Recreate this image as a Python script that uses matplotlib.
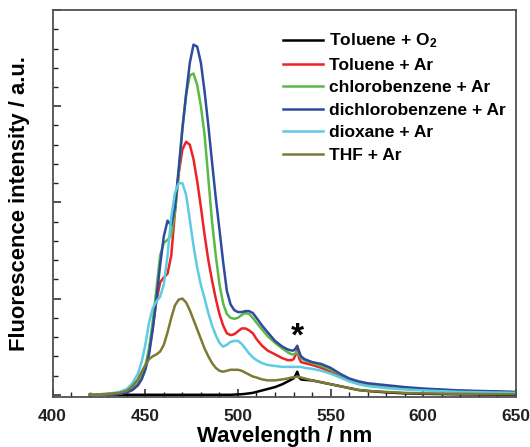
"""
Fluorescence emission spectra in different solvents (Ar / O2 atmosphere).
Redraws the spectra figure and saves it as out.png.
"""

import matplotlib
matplotlib.use("Agg")
import matplotlib.pyplot as plt
from matplotlib.ticker import MultipleLocator


# ──────────────────────────────────────────────────────────────
# DATA
# ──────────────────────────────────────────────────────────────
wavelength = [420, 430, 436, 440, 443, 446, 448, 450, 452, 454, 456, 458, 460,
              462, 464, 466, 468, 470, 472, 474, 476, 478, 480, 482, 484, 486,
              488, 490, 492, 494, 496, 498, 500, 502, 504, 506, 508, 510, 513,
              516, 520, 524, 527, 529, 530, 531, 532, 533, 534, 536, 540, 545,
              550, 555, 560, 565, 570, 580, 590, 600, 620, 650]

toluene_o2 = [0, 0, 0, 0, 0, 0, 0, 0, 0, 0, 0, 0, 0,
              0, 0, 0, 0, 0, 0, 0, 0, 0, 0, 0, 0, 0,
              0, 0, 0, 0, 0, 0.002, 0.004, 0.006, 0.01, 0.015, 0.02, 0.03, 0.045,
              0.06, 0.08, 0.11, 0.14, 0.16, 0.17, 0.20, 0.24, 0.18, 0.16, 0.155, 0.15, 0.13,
              0.11, 0.09, 0.07, 0.05, 0.04, 0.025, 0.015, 0.01, 0.005, 0]

toluene_ar = [0, 0.005, 0.01, 0.03, 0.05, 0.10, 0.17, 0.28, 0.45, 0.70, 0.98, 1.17, 1.22,
              1.26, 1.45, 1.90, 2.30, 2.55, 2.63, 2.60, 2.45, 2.22, 1.95, 1.66, 1.40, 1.19,
              1.00, 0.84, 0.72, 0.64, 0.62, 0.63, 0.66, 0.69, 0.69, 0.67, 0.64, 0.58, 0.51,
              0.46, 0.42, 0.38, 0.36, 0.36, 0.37, 0.41, 0.48, 0.38, 0.34, 0.33, 0.31, 0.28,
              0.24, 0.19, 0.15, 0.12, 0.10, 0.08, 0.065, 0.055, 0.04, 0.025]

chlorobenzene_ar = [0, 0.005, 0.01, 0.03, 0.06, 0.12, 0.19, 0.30, 0.48, 0.76, 1.10, 1.45, 1.58,
                    1.61, 1.66, 1.90, 2.30, 2.78, 3.12, 3.32, 3.34, 3.22, 3.00, 2.70, 2.25, 1.80,
                    1.45, 1.15, 0.95, 0.84, 0.80, 0.79, 0.80, 0.83, 0.85, 0.84, 0.80, 0.75, 0.68,
                    0.61, 0.54, 0.48, 0.44, 0.42, 0.42, 0.43, 0.45, 0.42, 0.38, 0.36, 0.33, 0.30,
                    0.26, 0.21, 0.16, 0.13, 0.11, 0.09, 0.07, 0.06, 0.04, 0.025]

dichlorobenzene_ar = [0, 0.005, 0.01, 0.025, 0.05, 0.10, 0.16, 0.26, 0.42, 0.68, 1.00, 1.35, 1.65,
                      1.81, 1.76, 1.95, 2.35, 2.76, 3.12, 3.45, 3.64, 3.62, 3.45, 3.15, 2.80, 2.42,
                      2.05, 1.72, 1.38, 1.08, 0.94, 0.88, 0.86, 0.86, 0.87, 0.87, 0.85, 0.80, 0.72,
                      0.65, 0.56, 0.50, 0.47, 0.46, 0.46, 0.48, 0.51, 0.45, 0.40, 0.37, 0.34, 0.32,
                      0.28, 0.22, 0.17, 0.14, 0.12, 0.10, 0.08, 0.065, 0.045, 0.03]

dioxane_ar = [0, 0.01, 0.03, 0.06, 0.12, 0.22, 0.34, 0.52, 0.75, 0.90, 0.97, 1.02, 1.15,
              1.45, 1.85, 2.10, 2.20, 2.20, 2.08, 1.82, 1.55, 1.32, 1.14, 1.00, 0.85, 0.72,
              0.62, 0.54, 0.50, 0.52, 0.55, 0.56, 0.56, 0.53, 0.48, 0.43, 0.39, 0.36, 0.33,
              0.31, 0.30, 0.29, 0.29, 0.29, 0.29, 0.29, 0.29, 0.29, 0.29, 0.28, 0.27, 0.25,
              0.22, 0.18, 0.14, 0.11, 0.09, 0.07, 0.055, 0.045, 0.03, 0.02]

thf_ar = [0, 0.01, 0.02, 0.04, 0.09, 0.16, 0.24, 0.31, 0.37, 0.40, 0.42, 0.45, 0.52,
          0.65, 0.80, 0.93, 0.99, 1.00, 0.96, 0.88, 0.78, 0.68, 0.58, 0.48, 0.40, 0.33,
          0.28, 0.25, 0.24, 0.25, 0.26, 0.26, 0.26, 0.25, 0.23, 0.21, 0.19, 0.18, 0.16,
          0.15, 0.15, 0.16, 0.17, 0.18, 0.18, 0.185, 0.19, 0.185, 0.18, 0.17, 0.15, 0.13,
          0.11, 0.09, 0.07, 0.05, 0.04, 0.03, 0.02, 0.015, 0.01, 0.005]

labels = ["Toluene + O$_2$", "Toluene + Ar", "chlorobenzene + Ar",
          "dichlorobenzene + Ar", "dioxane + Ar", "THF + Ar"]
colors = ["#000000", "#ec2227", "#5cb947", "#2f4b9e", "#5fcbe2", "#7b7b35"]


# ──────────────────────────────────────────────────────────────
# PLOT
# ──────────────────────────────────────────────────────────────
def main() -> None:
    plt.rcParams["font.family"] = ["Liberation Sans", "DejaVu Sans"]
    plt.rcParams["font.weight"] = "bold"
    plt.rcParams["mathtext.fontset"] = "custom"
    plt.rcParams["mathtext.bf"] = "Liberation Sans:bold"
    plt.rcParams["mathtext.rm"] = "Liberation Sans:bold"
    plt.rcParams["mathtext.default"] = "bf"

    fig = plt.figure(figsize=(5.30, 4.47), dpi=100)
    ax = fig.add_axes([0.0994, 0.1125, 0.874, 0.865])

    series = [toluene_o2, toluene_ar, chlorobenzene_ar,
              dichlorobenzene_ar, dioxane_ar, thf_ar]
    for y, lab, col in zip(series, labels, colors):
        ax.plot(wavelength, y, color=col, lw=1.8, label=lab,
                solid_joinstyle="round")

    # scattered excitation line marker
    ax.text(532, 0.60, "*", ha="center", va="center",
            fontsize=24, fontweight="bold")

    ax.set_xlim(400, 650)
    ax.set_ylim(-0.02, 4.0)
    ax.xaxis.set_major_locator(MultipleLocator(50))
    ax.xaxis.set_minor_locator(MultipleLocator(10))
    ax.yaxis.set_major_locator(MultipleLocator(1))
    ax.yaxis.set_minor_locator(MultipleLocator(0.2))
    ax.set_yticklabels([])

    ax.tick_params(which="both", direction="in", top=False, right=False,
                   colors="#222222", labelsize=12.5, pad=9)
    ax.tick_params(which="major", length=6, width=1.1)
    ax.tick_params(which="minor", length=3.5, width=1.0)
    for lab in ax.get_xticklabels():
        lab.set_fontweight("bold")

    for sp in ax.spines.values():
        sp.set_color("#505050")
        sp.set_linewidth(1.3)

    ax.set_xlabel("Wavelength / nm", fontsize=16, fontweight="bold", labelpad=1.5)
    ax.set_ylabel("Fluorescence intensity / a.u.", fontsize=15.8,
                  fontweight="bold", labelpad=7)

    ax.legend(loc="upper left", bbox_to_anchor=(0.483, 0.962), frameon=False,
              fontsize=12.5, handlelength=2.3, handletextpad=0.3,
              labelspacing=0.42, borderaxespad=0)

    fig.savefig("out.png", dpi=100)


if __name__ == "__main__":
    main()
